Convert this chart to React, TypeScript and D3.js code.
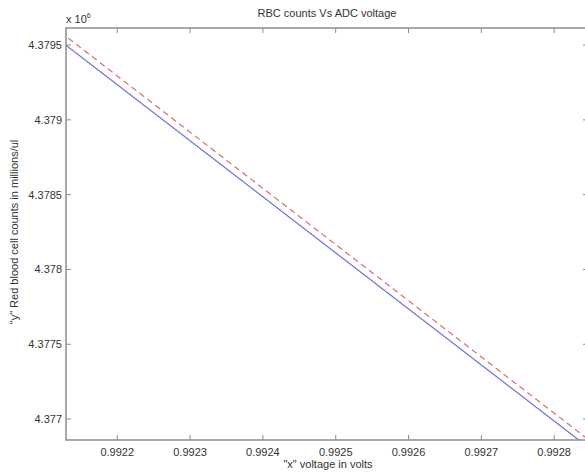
import React from "react";
import * as d3 from "d3";

const xTicks = [0.9922, 0.9923, 0.9924, 0.9925, 0.9926, 0.9927, 0.9928];
const yTicks = [4.377, 4.3775, 4.378, 4.3785, 4.379, 4.3795];
const xValues = [0.9921, 0.9929];
const blueSeries = [4.379609, 4.376612];
const redSeries = [4.379669, 4.376664];
const xDomain = [0.99212958, 0.99284648];
const yDomain = [4.37686, 4.379614];

const W = 585, H = 472;
const L = 66, R = 588, T = 28, B = 440;
const font = "'Liberation Sans', Arial, sans-serif";

export default function App() {
  const x = d3.scaleLinear().domain(xDomain).range([L, R]);
  const y = d3.scaleLinear().domain(yDomain).range([B, T]);
  const line = d3.line<number>().x((_, i) => x(xValues[i])).y((d) => y(d));
  const tl = 5;
  return (
    <svg width={W} height={H} style={{ position: "absolute", left: 0, top: 0, background: "#fff" }}>
      <defs>
        <clipPath id="pc"><rect x={L} y={T} width={R - L} height={B - T} /></clipPath>
      </defs>
      <g clipPath="url(#pc)">
        <path d={line(blueSeries) || ""} fill="none" stroke="#6f6fd8" strokeWidth={1.2} />
        <path d={line(redSeries) || ""} fill="none" stroke="#e06a6a" strokeWidth={1.2} strokeDasharray="6,4" />
      </g>
      <rect x={L} y={T} width={R - L} height={B - T} fill="none" stroke="#8c8c8c" strokeWidth={1.5} />
      {xTicks.map((t) => (
        <g key={"x" + t}>
          <line x1={x(t)} x2={x(t)} y1={B} y2={B - tl} stroke="#8c8c8c" />
          <line x1={x(t)} x2={x(t)} y1={T} y2={T + tl} stroke="#8c8c8c" />
          <text x={x(t)} y={B + 16} textAnchor="middle" fontFamily={font} fontSize={11} fill="#333">{t.toFixed(4)}</text>
        </g>
      ))}
      {yTicks.map((t) => (
        <g key={"y" + t}>
          <line x1={L} x2={L + tl} y1={y(t)} y2={y(t)} stroke="#8c8c8c" />
          <line x1={R} x2={R - tl} y1={y(t)} y2={y(t)} stroke="#8c8c8c" />
          <text x={L - 4} y={y(t) + 4} textAnchor="end" fontFamily={font} fontSize={11} fill="#333">{String(t)}</text>
        </g>
      ))}
      <text x={66} y={23} fontFamily={font} fontSize={11} fill="#333">x 10<tspan fontSize={7} dy={-5}>6</tspan></text>
      <text x={327} y={17} textAnchor="middle" fontFamily={font} fontSize={11} fill="#333">RBC counts Vs ADC voltage</text>
      <text x={328} y={468} textAnchor="middle" fontFamily={font} fontSize={11} fill="#333">"x" voltage in volts</text>
      <text transform={`translate(18,${232}) rotate(-90)`} textAnchor="middle" fontFamily={font} fontSize={11} fill="#333">"y" Red blood cell counts in millions/ul</text>
    </svg>
  );
}
